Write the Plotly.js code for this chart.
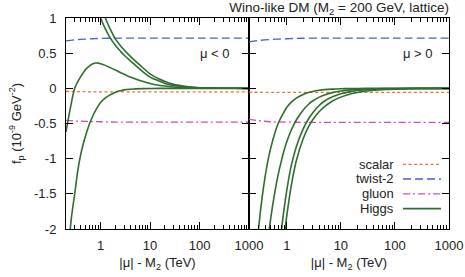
<!DOCTYPE html>
<html><head><meta charset="utf-8">
<script src="https://cdn.plot.ly/plotly-3.0.1.min.js"></script>
<style>html,body{margin:0;padding:0;background:#fff}#chart{width:465px;height:277px}</style>
</head><body><div id="chart"></div>
<script>
// ---- data ----
const xGrid = [0.2,0.25,0.3,0.35,0.4,0.45,0.5,0.6,0.7,0.8,0.9,1,1.2,1.5,2,2.5,3,4,5,7,10,15,20,30,50,70,100,200,500,1000];

// mu < 0 panel, Higgs curves
const higgsNeg1 = [3.34,2.83,2.47,2.2,1.99,1.82,1.7,1.47,1.3,1.18,1.08,1.0,0.87,0.74,0.61,0.53,0.47,0.39,0.33,0.24,0.16,0.105,0.07,0.042,0.02,0.012,0.007,0.002,0.0005,0];
const higgsNeg2 = [3.9,3.3,2.9,2.6,2.35,2.15,2.0,1.7,1.55,1.4,1.28,1.18,1.03,0.87,0.70,0.61,0.545,0.455,0.39,0.30,0.205,0.135,0.097,0.056,0.029,0.017,0.009,0.003,0.001,0];
const higgsNeg3 = [-0.62,-0.25,0.0,0.1,0.17,0.225,0.27,0.32,0.35,0.36,0.358,0.35,0.33,0.30,0.26,0.225,0.20,0.16,0.135,0.10,0.07,0.045,0.032,0.02,0.01,0.007,0.004,0.002,0.001,0];
const higgsNeg4 = [-3.0,-1.92,-1.5,-1.15,-0.93,-0.78,-0.67,-0.50,-0.39,-0.31,-0.25,-0.20,-0.145,-0.10,-0.055,-0.035,-0.022,-0.012,-0.008,-0.004,-0.002,-0.001,0,0,0,0,0,0,0,0];

// mu > 0 panel, Higgs curves
const higgsPos1 = [-3.9,-2.7,-2.0,-1.55,-1.24,-1.02,-0.86,-0.64,-0.49,-0.40,-0.33,-0.27,-0.20,-0.14,-0.087,-0.06,-0.045,-0.028,-0.019,-0.011,-0.006,-0.003,-0.002,-0.001,0,0,0,0,0,0];
const higgsPos2 = [-6.2,-4.6,-3.6,-3.0,-2.5,-2.15,-1.87,-1.48,-1.21,-1.02,-0.87,-0.76,-0.60,-0.45,-0.31,-0.23,-0.18,-0.125,-0.094,-0.061,-0.038,-0.022,-0.016,-0.009,-0.005,-0.003,-0.002,-0.001,0,0];
const higgsPos3 = [-14.9,-10.8,-8.3,-6.6,-5.47,-4.6,-3.95,-3.04,-2.43,-2.0,-1.69,-1.45,-1.11,-0.83,-0.58,-0.44,-0.35,-0.24,-0.18,-0.12,-0.077,-0.047,-0.032,-0.02,-0.01,-0.007,-0.005,-0.002,-0.001,0];
const higgsPos4 = [-17,-12.4,-9.6,-7.8,-6.5,-5.5,-4.7,-3.7,-2.97,-2.47,-2.09,-1.81,-1.40,-1.03,-0.72,-0.55,-0.45,-0.33,-0.26,-0.18,-0.125,-0.081,-0.06,-0.039,-0.023,-0.016,-0.011,-0.005,-0.002,-0.001];

// other contributions
const xFlat = [0.2,0.3,0.5,0.7,1,1.5,2,5,10,100,1000];
const scalarNeg = [-0.042,-0.045,-0.048,-0.05,-0.05,-0.05,-0.05,-0.05,-0.05,-0.05,-0.05];
const scalarPos = [-0.055,-0.056,-0.057,-0.057,-0.057,-0.057,-0.057,-0.057,-0.057,-0.057,-0.057];
const twist2Neg = [0.675,0.69,0.70,0.705,0.71,0.712,0.714,0.715,0.715,0.715,0.715];
const twist2Pos = [0.66,0.68,0.695,0.70,0.705,0.71,0.712,0.715,0.715,0.715,0.715];
const gluonNeg = [-0.455,-0.465,-0.47,-0.473,-0.475,-0.478,-0.48,-0.48,-0.48,-0.48,-0.48];
const gluonPos = [-0.44,-0.46,-0.475,-0.478,-0.48,-0.482,-0.483,-0.485,-0.485,-0.485,-0.485];

const seriesNames = ['scalar','twist-2','gluon','Higgs'];
const xTickRange = [0.2, 1000];
const yTickVals = [-2,-1.5,-1,-0.5,0,0.5,1];
const yTickText = ['-2','-1.5','-1','-0.5','0','0.5','1'];
const panelLabels = ['μ < 0','μ > 0'];
const titleText = 'Wino-like DM (M<sub>2</sub> = 200 GeV, lattice)';
const xTitle = '|μ| - M<sub>2</sub> (TeV)';
const yTitle = 'f<sub>p</sub> (10<sup>-9</sup> GeV<sup>-2</sup>)';

// ---- styles ----
const C = {scalar:'#e8743b', twist:'#3f62cf', gluon:'#d649b6', higgs:'#2e6e2e'};
const D = {scalar:'3px,2.5px', twist:'8px,4px', gluon:'7px,3px,2px,3px', higgs:'solid'};
const W = {scalar:1.3, twist:1.3, gluon:1.3, higgs:1.6};
const FONT = 'Liberation Sans, Arial, Helvetica, sans-serif';
const axisFont = {family:FONT, size:13, color:'#222'};
const titleFont = {family:FONT, size:13.5, color:'#222'};

function tr(x, y, xa, ya, key, name){
  return {type:'scatter', mode:'lines', x:x, y:y, xaxis:xa, yaxis:ya, name:name,
    line:{color:C[key], dash:D[key], width:W[key], shape:'spline', smoothing:1},
    showlegend:false, hoverinfo:'skip'};
}
const traces = [
  tr(xFlat, scalarNeg, 'x', 'y', 'scalar', seriesNames[0]),
  tr(xFlat, twist2Neg, 'x', 'y', 'twist', seriesNames[1]),
  tr(xFlat, gluonNeg, 'x', 'y', 'gluon', seriesNames[2]),
  tr(xGrid, higgsNeg1, 'x', 'y', 'higgs', seriesNames[3]),
  tr(xGrid, higgsNeg2, 'x', 'y', 'higgs', seriesNames[3]),
  tr(xGrid, higgsNeg3, 'x', 'y', 'higgs', seriesNames[3]),
  tr(xGrid, higgsNeg4, 'x', 'y', 'higgs', seriesNames[3]),
  tr(xFlat, scalarPos, 'x2', 'y2', 'scalar', seriesNames[0]),
  tr(xFlat, twist2Pos, 'x2', 'y2', 'twist', seriesNames[1]),
  tr(xFlat, gluonPos, 'x2', 'y2', 'gluon', seriesNames[2]),
  tr(xGrid, higgsPos1, 'x2', 'y2', 'higgs', seriesNames[3]),
  tr(xGrid, higgsPos2, 'x2', 'y2', 'higgs', seriesNames[3]),
  tr(xGrid, higgsPos3, 'x2', 'y2', 'higgs', seriesNames[3]),
  tr(xGrid, higgsPos4, 'x2', 'y2', 'higgs', seriesNames[3])
];

const split = 183/383;
function xAxis(domain, anchor){
  return {type:'log', domain:domain, anchor:anchor,
    range:[Math.log10(xTickRange[0]), Math.log10(xTickRange[1])],
    dtick:1, exponentformat:'none', ticks:'inside', ticklen:7, tickcolor:'#000', tickwidth:1,
    showline:true, linecolor:'#000', linewidth:1, mirror:'ticks', showgrid:false, zeroline:false,
    minor:{ticks:'inside', ticklen:4, dtick:'D1', tickcolor:'#000', tickwidth:1, showgrid:false},
    tickfont:axisFont, ticklabelstandoff:4,
    title:{text:xTitle, font:axisFont, standoff:6}};
}
function yAxis(anchor, labels){
  const ax = {domain:[0,1], anchor:anchor, range:[-2,1], tickmode:'array', tickvals:yTickVals, ticktext:yTickText,
    ticks:'inside', ticklen:7, tickcolor:'#000', tickwidth:1, showline:true, linecolor:'#000', linewidth:1,
    mirror:'ticks', showgrid:false, zeroline:false, showticklabels:labels, tickfont:axisFont,
    ticklabelstandoff:6};
  if (labels) ax.title = {text:yTitle, font:axisFont, standoff:9};
  return ax;
}

const keys = ['scalar','twist','gluon','higgs'];
const legRowY = [0.3066, 0.237, 0.166, 0.0967];
const annotations = [
  {xref:'paper', yref:'paper', x:0.434, y:0.834, xanchor:'right', yanchor:'middle', text:panelLabels[0], showarrow:false, font:axisFont},
  {xref:'paper', yref:'paper', x:0.9635, y:0.834, xanchor:'right', yanchor:'middle', text:panelLabels[1], showarrow:false, font:axisFont}
];
const shapes = [];
seriesNames.forEach((n,i)=>{
  annotations.push({xref:'paper', yref:'paper', x:0.8616, y:legRowY[i], xanchor:'right', yanchor:'middle',
    text:n, showarrow:false, font:axisFont});
  shapes.push({type:'line', xref:'paper', yref:'paper', x0:0.88, x1:0.979, y0:legRowY[i], y1:legRowY[i],
    line:{color:C[keys[i]], dash:D[keys[i]], width:W[keys[i]]}});
});

const layout = {
  width:465, height:277, margin:{l:66, r:16, t:18, b:48},
  paper_bgcolor:'#fff', plot_bgcolor:'#fff', showlegend:false,
  font:axisFont,
  title:{text:titleText, font:titleFont, xref:'paper', x:1, xanchor:'right', yref:'container', y:0.972, yanchor:'middle'},
  xaxis:xAxis([0, split], 'y'),
  xaxis2:xAxis([split, 1], 'y2'),
  yaxis:yAxis('x', true),
  yaxis2:yAxis('x2', false),
  annotations:annotations, shapes:shapes
};
Plotly.newPlot('chart', traces, layout, {staticPlot:true, displayModeBar:false});
</script></body></html>
